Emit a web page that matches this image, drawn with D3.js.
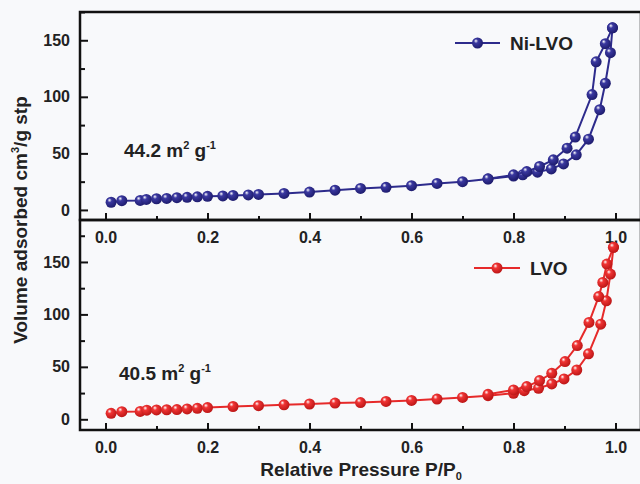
<!DOCTYPE html>
<meta charset="utf-8">
<script src="https://d3js.org/d3.v7.min.js"></script>
<style>
  body { margin: 0; background: #f8f9fb; }
  svg { font-family: 'Liberation Sans', Arial, sans-serif; }
  .tick text { font-size: 16px; font-weight: bold; fill: #222; }
  .axis path { display: none; }
  .axis line { stroke: #111; stroke-width: 2; }
</style>
<body>
<div id="chart"></div>
<script>

// Ni-LVO isotherm (top panel)
var niAdsX = [0.011, 0.032, 0.068, 0.080, 0.100, 0.120, 0.140, 0.160, 0.180, 0.200, 0.230, 0.250, 0.280, 0.300, 0.350, 0.400, 0.450, 0.500, 0.550, 0.600, 0.650, 0.700, 0.750, 0.800, 0.818, 0.847, 0.874, 0.898, 0.923, 0.947, 0.969, 0.980, 0.990, 0.994]
var niAdsY = [6.8, 8.2, 8.4, 9.3, 9.9, 10.2, 10.8, 11.2, 11.6, 12.0, 12.4, 12.8, 13.3, 13.7, 14.6, 15.8, 17.5, 19.0, 20.0, 21.4, 23.4, 25.0, 27.3, 30.0, 31.0, 33.4, 36.3, 40.7, 48.7, 62.6, 88.6, 112, 139, 161]
var niDesX = [0.994, 0.980, 0.962, 0.954, 0.921, 0.905, 0.878, 0.851, 0.826, 0.800, 0.750]
var niDesY = [161, 147, 131, 102, 64.4, 54.6, 44.3, 38.4, 33.9, 31.0, 27.5]

// LVO isotherm (bottom panel)
var lvoAdsX = [0.011, 0.032, 0.068, 0.081, 0.100, 0.120, 0.140, 0.160, 0.180, 0.200, 0.250, 0.300, 0.350, 0.400, 0.450, 0.500, 0.550, 0.600, 0.650, 0.700, 0.750, 0.800, 0.821, 0.849, 0.875, 0.899, 0.924, 0.947, 0.971, 0.982, 0.990, 0.996]
var lvoAdsY = [5.7, 7.3, 7.5, 8.7, 8.9, 9.1, 9.3, 9.9, 10.5, 11.2, 12.2, 13.0, 13.8, 14.6, 15.5, 16.0, 17.0, 18.0, 19.3, 20.8, 22.5, 24.8, 27.3, 29.6, 33.7, 38.5, 47.0, 62.4, 90.7, 113, 138.5, 164]
var lvoDesX = [0.996, 0.983, 0.975, 0.967, 0.948, 0.925, 0.901, 0.875, 0.851, 0.826, 0.800, 0.750]
var lvoDesY = [164, 148, 130.5, 117, 92.3, 70.3, 55.0, 43.9, 36.9, 31.2, 28.0, 23.8]

var xTicks = [0.0, 0.2, 0.4, 0.6, 0.8, 1.0]
var xMinor = [0.1, 0.3, 0.5, 0.7, 0.9]
var yTicks = [0, 50, 100, 150]
var yMinor = [25, 75, 125, 175]

var width = 640, height = 484
var left = 80, right = 641

var svg = d3.select("#chart").append("svg")
  .attr("width", width).attr("height", height)

var defs = svg.append("defs")
function sphere(id, base, dark) {
  var g = defs.append("radialGradient").attr("id", id)
    .attr("cx", "40%").attr("cy", "40%").attr("r", "65%")
    .attr("fx", "35%").attr("fy", "30%")
  g.append("stop").attr("offset", "0%").attr("stop-color", "#ffffff")
  g.append("stop").attr("offset", "30%").attr("stop-color", base)
  g.append("stop").attr("offset", "100%").attr("stop-color", dark)
}
sphere("gNavy", "#3a38a0", "#1c1a6a")
sphere("gRed", "#f03434", "#b81414")

var x = d3.scaleLinear().domain([-0.05, 1.048]).range([left, 640])

var panels = [
  { top: 12, bottom: 220, ymax: 175, ymin: -8.9, color: "#2d2b8c", grad: "gNavy",
    ads: [niAdsX, niAdsY], des: [niDesX, niDesY], name: "Ni-LVO",
    leg: [455, 500, 43], note: ["44.2", 124, 157] },
  { top: 220, bottom: 430, ymax: 190, ymin: -10.2, color: "#e62a2a", grad: "gRed",
    ads: [lvoAdsX, lvoAdsY], des: [lvoDesX, lvoDesY], name: "LVO",
    leg: [474, 520, 268], note: ["40.5", 119, 380] }
]

panels.forEach(function(p) {
  var y = d3.scaleLinear().domain([p.ymin, p.ymax]).range([p.bottom, p.top])

  // axes
  svg.append("g").attr("class", "axis")
    .attr("transform", "translate(" + left + ",0)")
    .call(d3.axisLeft(y).tickValues(yTicks).tickSize(-8).tickPadding(10))
  svg.append("g").attr("class", "axis")
    .attr("transform", "translate(" + left + ",0)")
    .call(d3.axisLeft(y).tickValues(yMinor).tickSize(-5).tickFormat(""))
  svg.append("g").attr("class", "axis")
    .attr("transform", "translate(0," + p.bottom + ")")
    .call(d3.axisBottom(x).tickValues(xTicks).tickSize(-7).tickPadding(12).tickFormat(d3.format(".1f")))
  svg.append("g").attr("class", "axis")
    .attr("transform", "translate(0," + p.bottom + ")")
    .call(d3.axisBottom(x).tickValues(xMinor).tickSize(-4).tickFormat(""))

  svg.append("rect")
    .attr("x", left).attr("y", p.top)
    .attr("width", right - left).attr("height", p.bottom - p.top)
    .attr("fill", "none").attr("stroke", "#111").attr("stroke-width", 2.5)

  var line = d3.line().x(function(d) { return x(d[0]) }).y(function(d) { return y(d[1]) })

  ;[p.ads, p.des].forEach(function(s) {
    var pts = d3.zip(s[0], s[1])
    svg.append("path").datum(pts)
      .attr("d", line).attr("fill", "none")
      .attr("stroke", p.color).attr("stroke-width", 2)
    svg.selectAll(null).data(pts).enter().append("circle")
      .attr("cx", function(d) { return x(d[0]) })
      .attr("cy", function(d) { return y(d[1]) })
      .attr("r", 5.5)
      .attr("fill", "url(#" + p.grad + ")")
  })

  // legend
  svg.append("line")
    .attr("x1", p.leg[0]).attr("x2", p.leg[1]).attr("y1", p.leg[2]).attr("y2", p.leg[2])
    .attr("stroke", p.color).attr("stroke-width", 2)
  svg.append("circle")
    .attr("cx", (p.leg[0] + p.leg[1]) / 2).attr("cy", p.leg[2]).attr("r", 5.5)
    .attr("fill", "url(#" + p.grad + ")")
  svg.append("text")
    .attr("x", p.leg[1] + 10).attr("y", p.leg[2] + 7)
    .style("font-size", "19px").style("font-weight", "bold").attr("fill", "#222")
    .text(p.name)

  // surface area note
  var t = svg.append("text")
    .attr("x", p.note[1]).attr("y", p.note[2])
    .style("font-size", "19px").style("font-weight", "bold").attr("fill", "#222")
  t.append("tspan").text(p.note[0] + " m")
  t.append("tspan").attr("dy", -8).style("font-size", "11px").text("2")
  t.append("tspan").attr("dy", 8).text(" g")
  t.append("tspan").attr("dy", -8).style("font-size", "11px").text("-1")
})

// axis titles
var yl = svg.append("text")
  .attr("transform", "translate(27,220) rotate(-90)")
  .attr("text-anchor", "middle")
  .style("font-size", "19px").style("font-weight", "bold").attr("fill", "#222")
yl.append("tspan").text("Volume adsorbed cm")
yl.append("tspan").attr("dy", -8).style("font-size", "11px").text("3")
yl.append("tspan").attr("dy", 8).text("/g stp")

var xl = svg.append("text")
  .attr("x", 361).attr("y", 476)
  .attr("text-anchor", "middle")
  .style("font-size", "19px").style("font-weight", "bold").attr("fill", "#222")
xl.append("tspan").text("Relative Pressure P/P")
xl.append("tspan").attr("dy", 4).style("font-size", "11px").text("0")

</script>
</body>
